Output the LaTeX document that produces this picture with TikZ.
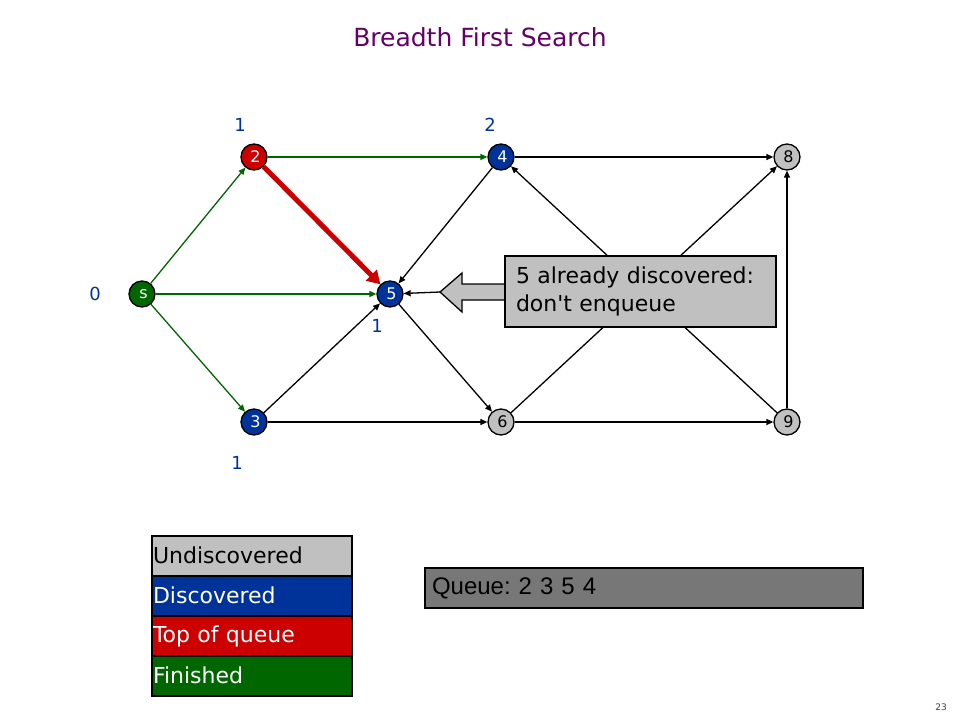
\documentclass[tikz,border=0pt]{standalone}
\usepackage{fontspec}
\setmainfont{DejaVu Sans}
\newfontfamily\qfont{Liberation Sans}
\usetikzlibrary{arrows.meta}
\definecolor{cgrey}{RGB}{192,192,192}
\definecolor{cblue}{RGB}{0,51,153}
\definecolor{cred}{RGB}{204,0,0}
\definecolor{cgreen}{RGB}{0,102,0}
\definecolor{cpurple}{RGB}{102,0,102}
\definecolor{cqueue}{RGB}{119,119,119}
\begin{document}
\frenchspacing
\begin{tikzpicture}[x=1pt,y=-1pt,
  vertex/.style={circle,draw=black,line width=1.3pt,minimum size=26pt,inner sep=0pt,font=\fontsize{16}{16}\selectfont},
  undisc/.style={vertex,fill=cgrey,text=black},
  disc/.style={vertex,fill=cblue,text=white},
  topq/.style={vertex,fill=cred,text=white},
  fin/.style={vertex,fill=cgreen,text=white},
  edge/.style={draw=black,line width=1.3pt,-{Triangle[length=7pt,width=6pt]}},
  gedge/.style={edge,draw=cgreen},
  redge/.style={draw=cred,line width=5pt,-{Triangle[length=13pt,width=15pt]}},
  dist/.style={text=cblue,font=\fontsize{18}{18}\selectfont},
  legend/.style={draw=black,line width=2pt,minimum width=200pt,minimum height=40pt,inner xsep=1pt,inner ysep=0pt,text width=198pt,align=left,font=\fontsize{22}{22}\selectfont},
  callout/.style={draw=black,line width=1.3pt,fill=cgrey,minimum width=271pt,minimum height=71pt,inner xsep=11pt,text width=249pt,align=left,font=\fontsize{22}{28}\selectfont},
  queuebox/.style={draw=black,line width=2pt,fill=cqueue,minimum width=438pt,minimum height=40pt,inner xsep=7pt,text width=424pt,align=left,font=\qfont\fontsize{24}{24}\selectfont}
]
\useasboundingbox (0,0) rectangle (960,720);
\fill[white] (0,0) rectangle (960,720);

\node[text=cpurple,font=\fontsize{25}{25}\selectfont] (title) at (480,37) {Breadth First Search};

% vertices
\node[fin]    (s)  at (142,294) {\hspace{3pt}s};
\node[topq]   (n2) at (254,157) {\hspace{3pt}2};
\node[disc]   (n4) at (501,157) {\hspace{3pt}4};
\node[undisc] (n8) at (787,157) {\hspace{3pt}8};
\node[disc]   (n5) at (390,294) {\hspace{3pt}5};
\node[disc]   (n3) at (254,422) {\hspace{3pt}3};
\node[undisc] (n6) at (501,422) {\hspace{3pt}6};
\node[undisc] (n9) at (787,422) {\hspace{3pt}9};

% distances
\node[dist] (d2) at (240,125) {1};
\node[dist] (d4) at (490,125) {2};
\node[dist] (ds) at (95,294) {0};
\node[dist] (d5) at (377,326) {1};
\node[dist] (d3) at (237,463) {1};

% edges
\draw[gedge] (s) -- (n2);
\draw[gedge] (s) -- (n5);
\draw[gedge] (s) -- (n3);
\draw[gedge] (n2) -- (n4);
\draw[edge] (n4) -- (n8);
\draw[edge] (n4) -- (n5);
\draw[edge] (n3) -- (n5);
\draw[edge] (n3) -- (n6);
\draw[edge] (n5) -- (n6);
\draw[edge] (n6) -- (n9);
\draw[edge] (n6) -- (n8);
\draw[edge] (n9) -- (n4);
\draw[edge] (n9) -- (n8);
\draw[redge] (n2) -- (n5);

% callout
\fill[cgrey,draw=black,line width=1.3pt] (506,284) -- (462,284) -- (462,273) -- (440,292) -- (462,312) -- (462,300) -- (506,300);
\node[callout] (co) at (640.5,291.5) {5 already discovered:\\don\textquotesingle t enqueue};
\coordinate (tip) at (440,292);
\draw[edge] (tip) -- (n5);

% legend
\node[legend,fill=cgrey,text=black] (l1) at (252,556) {\raisebox{2pt}{Undiscovered}};
\node[legend,fill=cblue,text=white] (l2) at (252,596) {\raisebox{2pt}{Discovered}};
\node[legend,fill=cred,text=white] (l3) at (252,636) {\raisebox{2pt}{Top of queue}};
\node[legend,fill=cgreen,text=white] (l4) at (252,676) {\raisebox{2pt}{Finished}};

% queue
\node[queuebox] (q) at (644,588) {Queue: 2 3 5 4};

\node[font=\fontsize{9}{9}\selectfont,text=black!75] (pg) at (941,707) {23};
\end{tikzpicture}
\end{document}
